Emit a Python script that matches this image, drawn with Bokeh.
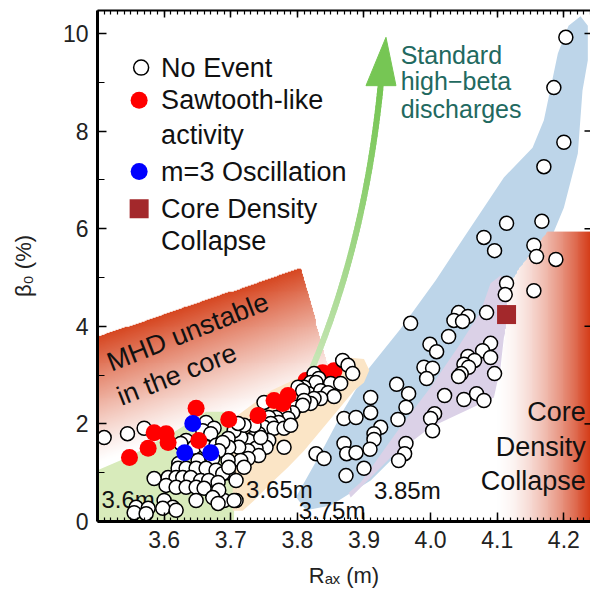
import numpy as np
from bokeh.plotting import figure
from bokeh.models import Range1d, FixedTicker, LinearAxis
from bokeh.core.properties import value
from bokeh.embed import file_html
from bokeh.resources import INLINE

FONT = "Liberation Sans"

# ---------------------------------------------------------------
# Discharges: magnetic axis position R_ax (m) vs central beta (%)
# ---------------------------------------------------------------
no_event = [
    # high-beta branch (large R_ax)
    (4.203, 9.92), (4.185, 8.89), (4.200, 7.77), (4.170, 7.27), (4.114, 6.11),
    (4.167, 6.15), (4.080, 5.82), (4.096, 5.55), (4.155, 5.66), (4.159, 5.43),
    (4.188, 5.37), (4.114, 4.88), (4.112, 4.65), (4.155, 4.73), (4.084, 4.28),
    (4.042, 4.28), (4.035, 4.12), (4.056, 4.20), (4.048, 4.10), (3.970, 4.06),
    (4.027, 3.79), (3.999, 3.63), (4.009, 3.48), (4.090, 3.65), (4.078, 3.50),
    (4.090, 3.36), (4.056, 3.38), (4.066, 3.30), (4.050, 3.22), (4.057, 3.16),
    (4.046, 3.03), (4.042, 2.97), (4.096, 3.03), (3.990, 3.16), (4.003, 3.14),
    (3.994, 2.93), (3.949, 2.81), (3.967, 2.62), (4.021, 2.58), (4.050, 2.50),
    (4.069, 2.62), (4.080, 2.48), (3.910, 2.54), (3.910, 2.23), (3.963, 2.34),
    (3.951, 2.09), (4.006, 2.21), (4.000, 2.11), (4.003, 1.86), (3.870, 2.11),
    (3.888, 2.13), (3.925, 1.93), (3.915, 1.80), (3.915, 1.68), (3.909, 1.48),
    (3.870, 1.60), (3.874, 1.39), (3.888, 1.41), (3.963, 1.60), (3.961, 1.39),
    (3.952, 1.25), (3.900, 1.09), (3.873, 0.94), (3.828, 1.39), (3.840, 1.29),
    # dense cloud around 3.70-3.88 m
    (3.868, 3.30), (3.876, 3.20), (3.883, 3.03), (3.825, 3.03), (3.832, 2.93),
    (3.820, 2.85), (3.828, 2.85), (3.850, 2.83), (3.865, 2.83), (3.810, 2.75),
    (3.801, 2.75), (3.817, 2.62), (3.808, 2.68), (3.835, 2.68), (3.846, 2.64),
    (3.855, 2.56), (3.835, 2.52), (3.825, 2.52), (3.820, 2.42), (3.810, 2.48),
    (3.798, 2.34), (3.808, 2.38), (3.793, 2.23), (3.780, 2.27), (3.786, 2.11),
    (3.768, 2.13), (3.757, 2.13), (3.750, 2.44), (3.772, 2.03), (3.760, 2.01),
    (3.750, 1.93), (3.765, 1.91), (3.742, 1.80), (3.735, 1.72), (3.726, 1.66),
    (3.715, 1.72), (3.705, 1.86), (3.696, 1.70), (3.757, 1.66), (3.753, 1.52),
    (3.780, 1.52), (3.738, 1.50), (3.726, 1.45), (3.712, 1.52), (3.697, 1.52),
    (3.742, 1.35), (3.726, 1.29), (3.715, 1.25), (3.720, 1.11), (3.696, 1.25),
    (3.696, 1.00), (3.708, 0.84), (3.708, 0.43), (3.690, 0.43), (3.745, 1.72),
    (3.735, 1.97), (3.720, 1.97), (3.711, 2.01), (3.780, 1.91), (3.790, 1.97),
    # inward-shifted configurations (3.5-3.7 m)
    (3.510, 1.72), (3.545, 1.80), (3.570, 1.91), (3.663, 2.03), (3.675, 1.91),
    (3.658, 1.86), (3.670, 1.80), (3.633, 1.66), (3.625, 1.60), (3.645, 1.52),
    (3.663, 1.52), (3.678, 1.56), (3.688, 1.62), (3.682, 1.45), (3.673, 1.29),
    (3.651, 1.25), (3.622, 1.19), (3.621, 1.09), (3.633, 1.09), (3.648, 1.09),
    (3.663, 1.09), (3.678, 1.05), (3.688, 0.98), (3.697, 1.11), (3.606, 0.90),
    (3.618, 0.90), (3.628, 0.90), (3.640, 0.90), (3.585, 0.88), (3.655, 0.84),
    (3.667, 0.84), (3.681, 0.80), (3.603, 0.74), (3.618, 0.70), (3.633, 0.70),
    (3.648, 0.70), (3.660, 0.68), (3.682, 0.64), (3.648, 0.43), (3.673, 0.49),
    (3.600, 0.43), (3.613, 0.29), (3.558, 0.29), (3.576, 0.27), (3.598, 0.27),
    (3.618, 0.23), (3.555, 0.18), (3.573, 0.16), (3.705, 0.43), (3.681, 0.37),
]
sawtooth = [
    (3.548, 1.31), (3.576, 1.50), (3.585, 1.82), (3.603, 1.80), (3.606, 1.62),
    (3.648, 2.32), (3.652, 1.66), (3.697, 2.09), (3.741, 2.17), (3.765, 2.48),
    (3.778, 2.42), (3.786, 2.58), (3.813, 2.89), (3.838, 3.05), (3.855, 3.09),
]
m3_oscillation = [(3.643, 2.01), (3.631, 1.41), (3.670, 1.41)]
density_collapse = [(4.114, 4.24)]

# ---------------------------------------------------------------
# Shaded regions (R_ax, beta_0 outlines)
# ---------------------------------------------------------------
band_360_r = [3.50, 3.50, 3.548, 3.618, 3.663, 3.690, 3.705, 3.705]
band_360_b = [0.00, 1.05, 1.33, 1.86, 2.25, 2.25, 2.10, 0.00]
band_365_r = [3.703, 3.760, 3.835, 3.876, 3.900, 3.908, 3.900, 3.885, 3.835,
              3.810, 3.786, 3.760, 3.735, 3.718, 3.703]
band_365_b = [2.10, 2.68, 3.16, 3.36, 3.33, 3.10, 2.85, 2.68, 1.86,
              1.45, 1.11, 0.78, 0.43, 0.22, 0.22]
band_375_r = [3.798, 3.835, 3.870, 3.905, 3.955, 4.008, 4.050, 4.110, 4.153,
              4.170, 4.191, 4.207, 4.225, 4.236, 4.236, 4.228, 4.221, 4.200,
              4.173, 4.135, 4.105, 4.060, 3.985, 3.910, 3.850, 3.813]
band_375_b = [0.50, 1.40, 2.30, 3.10, 3.95, 4.95, 5.82, 7.05, 7.66,
              8.22, 9.59, 10.16, 10.35, 10.16, 9.45, 8.83, 7.54, 6.43,
              5.55, 4.73, 4.12, 3.09, 1.86, 0.84, 0.33, 0.23]
band_385_r = [3.877, 3.895, 3.950, 4.000, 4.045, 4.075, 4.090, 4.105, 4.123,
              4.117, 4.110, 4.105, 4.095, 4.000, 3.940, 3.891, 3.880]
band_385_b = [0.59, 0.80, 1.85, 2.75, 3.65, 4.30, 4.88, 5.04, 4.73,
              4.12, 3.77, 3.16, 2.54, 1.93, 1.31, 0.64, 0.49]
mhd_r = [3.50, 3.50, 3.805, 3.840, 3.885, 3.885]
mhd_b = [0.00, 3.77, 5.18, 3.44, 1.20, 0.00]
collapse_r = [4.176, 4.250, 4.250, 4.095, 4.100, 4.112, 4.117, 4.135]
collapse_b = [5.94, 5.94, 0.00, 0.00, 2.50, 3.80, 4.84, 5.20]

# path of the "standard high-beta" arrow (quadratic Bezier control points)
arrow_r = [3.811, 3.900, 3.925]
arrow_b = [2.79, 5.50, 8.93]
arrow_head_r = [3.933, 3.903, 3.948]
arrow_head_b = [9.92, 8.93, 8.93]

x_tick_values = [3.6, 3.7, 3.8, 3.9, 4.0, 4.1, 4.2]
x_tick_labels = ["3.6", "3.7", "3.8", "3.9", "4.0", "4.1", "4.2"]
y_tick_values = [0, 2, 4, 6, 8, 10]
y_minor_values = [1, 3, 5, 7, 9]

X_START, X_END = 3.5, 4.24
Y_START, Y_END = 0.0, 10.47
X_MINOR = list(np.round(np.arange(3.50, 4.2401, 0.01), 2))


def inside_polygon(X, Y, px, py):
    """Even-odd rule point-in-polygon test on a grid."""
    res = np.zeros(X.shape, dtype=bool)
    n = len(px)
    j = n - 1
    for i in range(n):
        xi, yi, xj, yj = px[i], py[i], px[j], py[j]
        crosses = (yi > Y) != (yj > Y)
        xint = (xj - xi) * (Y - yi) / ((yj - yi) if yj != yi else 1e-12) + xi
        res ^= crosses & (X < xint)
        j = i
    return res


def gradient_region(px, py, nx, ny, colour_fn):
    x0, x1 = min(px), max(px)
    y0, y1 = min(py), max(py)
    xs = x0 + (np.arange(nx) + 0.5) * (x1 - x0) / nx
    ys = y0 + (np.arange(ny) + 0.5) * (y1 - y0) / ny
    X, Y = np.meshgrid(xs, ys)
    mask = inside_polygon(X, Y, px, py)
    r, g, b, a = colour_fn(X, Y)
    img = np.zeros((ny, nx), dtype=np.uint32)
    v = img.view(dtype=np.uint8).reshape((ny, nx, 4))
    v[..., 0] = np.clip(r, 0, 255).astype(np.uint8)
    v[..., 1] = np.clip(g, 0, 255).astype(np.uint8)
    v[..., 2] = np.clip(b, 0, 255).astype(np.uint8)
    v[..., 3] = np.where(mask, np.clip(a, 0, 255), 0).astype(np.uint8)
    return img, x0, y0, x1 - x0, y1 - y0


def mhd_colour(X, Y):
    top = mhd_b[1] + (X - mhd_r[1]) * (mhd_b[2] - mhd_b[1]) / (mhd_r[2] - mhd_r[1])
    d = np.maximum(top - Y, 0)
    a = np.clip(1 - d / 2.6, 0, 1) ** 1.2 * 255
    ones = np.ones_like(X)
    return 214 * ones, 70 * ones, 32 * ones, a


def collapse_colour(X, Y):
    t = np.clip((X - 4.10) / (X_END - 4.10), 0, 1) ** 1.6
    return (255 + (212 - 255) * t, 255 + (58 - 255) * t,
            255 + (22 - 255) * t, 255 * np.ones_like(X))


p = figure(width=590, height=596, output_backend="svg", toolbar_location=None,
           x_range=Range1d(X_START, X_END), y_range=Range1d(Y_START, Y_END),
           min_border_left=97, min_border_right=0, min_border_top=10,
           min_border_bottom=75, outline_line_color=None,
           background_fill_color="white", border_fill_color="white")
p.grid.visible = False

# --- axes ---------------------------------------------------------
xa = p.xaxis[0]
xa.ticker = FixedTicker(ticks=x_tick_values, minor_ticks=X_MINOR)
xa.major_label_overrides = dict(zip(x_tick_values, x_tick_labels))
ya = p.yaxis[0]
ya.ticker = FixedTicker(ticks=y_tick_values, minor_ticks=y_minor_values)

for ax in (xa, ya):
    ax.axis_line_width = 3
    ax.major_tick_in = 9
    ax.major_tick_out = 0
    ax.minor_tick_out = 0
    ax.major_tick_line_width = 1.5
    ax.minor_tick_line_width = 1.2
    ax.major_label_text_font = FONT
    ax.major_label_text_font_size = "23px"
    ax.major_label_text_color = "#222222"
    ax.major_label_standoff = 9
    ax.axis_label_text_font = FONT
    ax.axis_label_text_font_size = "22px"
    ax.axis_label_text_font_style = "normal"
    ax.axis_label_text_color = "#222222"
xa.minor_tick_in = 4
ya.minor_tick_in = 7
xa.axis_label = "R\u2090\u2093 (m)"
xa.axis_label_standoff = 12
ya.axis_label = "\u03b2\u2080 (%)"
ya.axis_label_standoff = 24

top_axis = LinearAxis(ticker=FixedTicker(ticks=x_tick_values, minor_ticks=X_MINOR),
                      major_label_text_font_size="0px", major_label_standoff=0,
                      major_label_text_color=None,
                      axis_line_width=2, major_tick_in=7, major_tick_out=0,
                      minor_tick_in=4, minor_tick_out=0,
                      major_tick_line_width=1.5, minor_tick_line_width=1.2)
p.add_layout(top_axis, "above")

# --- shaded regions -------------------------------------------------
img, x0, y0, dw, dh = gradient_region(mhd_r, mhd_b, 270, 260, mhd_colour)
p.image_rgba(image=[img], x=x0, y=y0, dw=dw, dh=dh)

p.patch(band_375_r, band_375_b, fill_color="#bdd5e9", line_color=None)
p.patch(band_385_r, band_385_b, fill_color="#dbd1e7", line_color=None)
p.patch(band_360_r, band_360_b, fill_color="#d8ebbb", line_color=None)
p.patch(band_365_r, band_365_b, fill_color="#fbe5c6", line_color=None)

img, x0, y0, dw, dh = gradient_region(collapse_r, collapse_b, 110, 290, collapse_colour)
p.image_rgba(image=[img], x=x0, y=y0, dw=dw, dh=dh)

# right-hand frame ticks
p.segment(x0=[X_END - 0.009] * len(y_tick_values), y0=y_tick_values,
          x1=[X_END + 0.01] * len(y_tick_values), y1=y_tick_values,
          line_color="black", line_width=1.5)

# --- "standard high-beta" arrow (fading shaft) ----------------------
t = np.linspace(0, 1, 80)
bx = (1 - t) ** 2 * arrow_r[0] + 2 * (1 - t) * t * arrow_r[1] + t ** 2 * arrow_r[2]
by = (1 - t) ** 2 * arrow_b[0] + 2 * (1 - t) * t * arrow_b[1] + t ** 2 * arrow_b[2]
tm = 0.5 * (t[:-1] + t[1:])
top_rgb = np.array([118, 198, 84])
low_rgb = np.array([214, 236, 200])
cols = ["#%02x%02x%02x" % tuple((low_rgb + (top_rgb - low_rgb) * s ** 0.8).astype(int))
        for s in tm]
p.segment(x0=bx[:-1], y0=by[:-1], x1=bx[1:], y1=by[1:], line_color=cols,
          line_width=6, line_cap="round")
p.patch(arrow_head_r, arrow_head_b, fill_color="#76c654", line_color="#76c654",
        line_width=1)

# --- region annotations ------------------------------------------------
p.text(x=[3.506, 3.723, 3.802, 3.915], y=[0.45, 0.66, 0.23, 0.64],
       text=["3.6m", "3.65m", "3.75m", "3.85m"], text_font=value(FONT),
       text_font_size="24px", text_baseline="alphabetic", text_color="#111111")

# --- discharges ----------------------------------------------------------
ne_r, ne_b = zip(*no_event)
m3_r, m3_b = zip(*m3_oscillation)
dc_r, dc_b = zip(*density_collapse)

# sawtooth points inside the dense outward cloud lie beneath it
deep = [(r, b) for r, b in sawtooth if r > 3.79]
front = [(r, b) for r, b in sawtooth if r <= 3.79]
p.scatter(*zip(*deep), size=17, marker="circle", fill_color="#ff0000", line_color=None)
p.scatter(ne_r, ne_b, size=14, marker="circle", fill_color="white",
          line_color="black", line_width=1.5)
p.scatter(*zip(*front), size=17, marker="circle", fill_color="#ff0000", line_color=None)
p.scatter(m3_r, m3_b, size=17, marker="circle", fill_color="#0000ff", line_color=None)
p.scatter(dc_r, dc_b, size=19, marker="square", fill_color="#a3282b", line_color=None)

# --- texts inside the frame ----------------------------------------------
p.text(x=[3.516, 3.531], y=[3.24, 2.54], text=["MHD unstable", "in the core"],
       angle=np.deg2rad(21.5), text_font=value(FONT), text_font_size="27px",
       text_baseline="alphabetic", text_color="#111111")
p.text(x=[4.233, 4.233, 4.233], y=[2.24, 1.52, 0.84],
       text=["Core", "Density", "Collapse"], text_font=value(FONT),
       text_font_size="27px", text_align="right", text_baseline="alphabetic",
       text_color="#111111")
p.text(x=[3.955, 3.955, 3.955], y=[9.55, 9.02, 8.46],
       text=["Standard", "high\u2212beta", "discharges"], text_font=value(FONT),
       text_font_size="25px", text_baseline="alphabetic", text_color="#22695f")

# --- legend ----------------------------------------------------------------
p.scatter([3.5655], [9.30], size=15, marker="circle", fill_color="white",
          line_color="black", line_width=1.5)
p.scatter([3.5625], [8.63], size=17, marker="circle", fill_color="#ff0000", line_color=None)
p.scatter([3.5625], [7.17], size=17, marker="circle", fill_color="#0000ff", line_color=None)
p.scatter([3.5625], [6.41], size=19, marker="square", fill_color="#a3282b", line_color=None)
p.text(x=[3.5955] * 6, y=[9.30, 8.63, 7.91, 7.17, 6.41, 5.74],
       text=["No Event", "Sawtooth-like", "activity", "m=3 Oscillation",
             "Core Density", "Collapse"],
       text_font=value(FONT), text_font_size="27px", text_baseline="middle",
       text_color="#111111")

open("out.html", "w").write(file_html(p, INLINE))
